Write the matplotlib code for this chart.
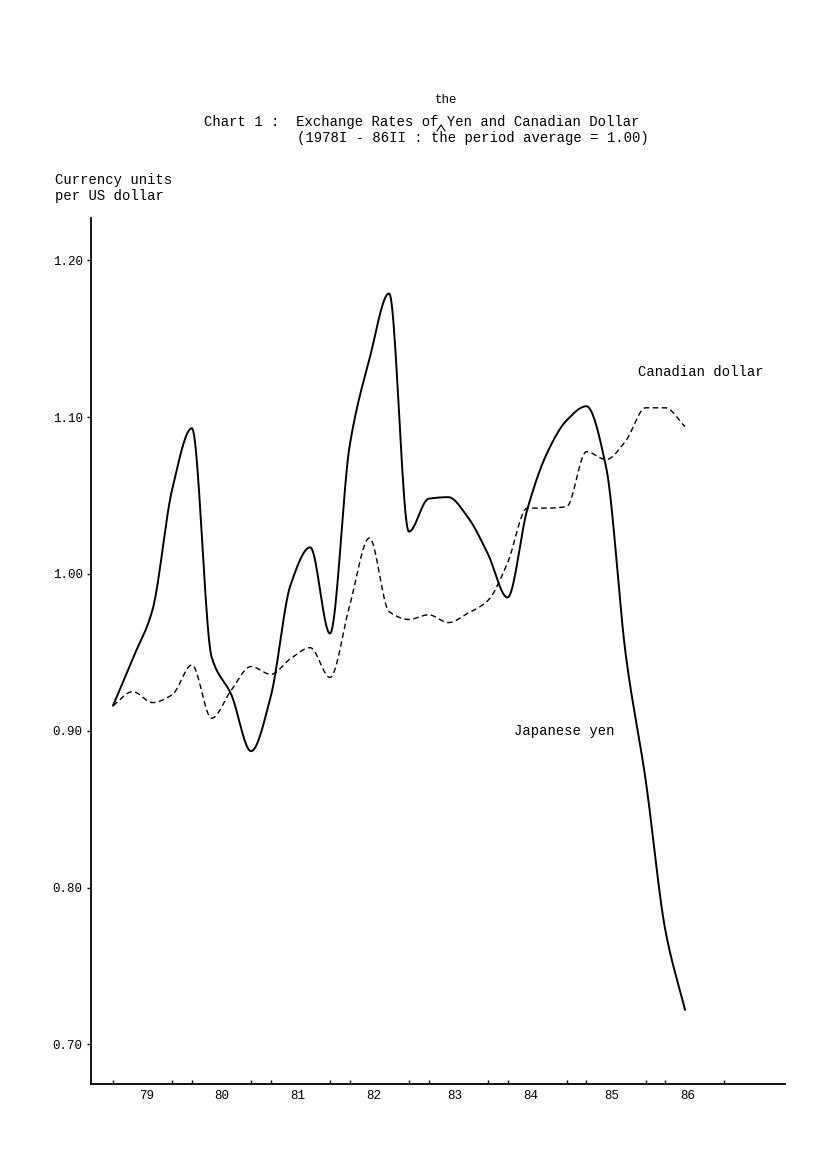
import numpy as np
import matplotlib
matplotlib.use("Agg")
import matplotlib.pyplot as plt
from matplotlib.lines import Line2D

# ---------------- data (quarterly, 1979I - 1986II) ----------------
years = [79, 80, 81, 82, 83, 84, 85, 86]
year_labels = ["79", "80", "81", "82", "83", "84", "85", "86"]
quarters = np.arange(30)  # 79I .. 86II

yen = [0.916, 0.946, 0.977, 1.054, 1.093, 0.947, 0.923, 0.887,
       0.922, 0.993, 1.017, 0.962, 1.082, 1.137, 1.179, 1.027,
       1.048, 1.049, 1.036, 1.013, 0.985, 1.041, 1.077, 1.098,
       1.107, 1.068, 0.948, 0.869, 0.773, 0.722]

cad = [0.916, 0.925, 0.918, 0.923, 0.942, 0.908, 0.926, 0.941,
       0.936, 0.946, 0.953, 0.934, 0.980, 1.023, 0.976, 0.971,
       0.974, 0.969, 0.975, 0.983, 1.007, 1.042, 1.042, 1.043,
       1.078, 1.073, 1.085, 1.106, 1.106, 1.094]

y_ticks = [0.70, 0.80, 0.90, 1.00, 1.10, 1.20]
y_ticklabels = ["0.70", "0.80", "0.90", "1.00", "1.10", "1.20"]


def pchip(x, y, xs):
    x = np.asarray(x, float)
    y = np.asarray(y, float)
    h = np.diff(x)
    d = np.diff(y) / h
    n = len(x)
    m = np.zeros(n)
    for k in range(1, n - 1):
        if d[k - 1] * d[k] > 0:
            w1 = 2 * h[k] + h[k - 1]
            w2 = h[k] + 2 * h[k - 1]
            m[k] = (w1 + w2) / (w1 / d[k - 1] + w2 / d[k])
        else:
            m[k] = 0.0
    m[0] = d[0]
    m[-1] = d[-1]
    out = np.empty_like(xs)
    idx = np.clip(np.searchsorted(x, xs) - 1, 0, n - 2)
    for j, (xv, k) in enumerate(zip(xs, idx)):
        t = (xv - x[k]) / h[k]
        h00 = 2 * t**3 - 3 * t**2 + 1
        h10 = t**3 - 2 * t**2 + t
        h01 = -2 * t**3 + 3 * t**2
        h11 = t**3 - t**2
        out[j] = h00 * y[k] + h10 * h[k] * m[k] + h01 * y[k + 1] + h11 * h[k] * m[k + 1]
    return out


# x in years (1979.0 = 79I)
xq = 1979 + quarters / 4.0
xs = np.linspace(xq[0], xq[-1], 600)

plt.rcParams['font.family'] = ['Liberation Mono', 'DejaVu Sans Mono']

fig = plt.figure(figsize=(8.27, 11.70), dpi=100)
W, H = 827, 1170
ax = fig.add_axes([91 / W, 1 - 1084 / H, (785 - 91) / W, (1084 - 218) / H])

ax.plot(xs, pchip(xq, yen, xs), color='black', lw=1.4, solid_capstyle='round')
ax.plot(xs, pchip(xq, cad, xs), color='black', lw=1.0, linestyle=(0, (4, 2.5)))

ax.set_xlim(1979 + (91 - 113) / 78.9, 1979 + (785 - 113) / 78.9)
ax.set_ylim(1.0 + (574 - 1084) / 1568, 1.0 + (574 - 218) / 1568)

for s in ['top', 'right']:
    ax.spines[s].set_visible(False)
ax.spines['left'].set_linewidth(1.3)
ax.spines['bottom'].set_linewidth(1.3)

xt = []
for yr in years:
    xt += [1900 + yr, 1900 + yr + 0.75]
ax.set_xticks(xt)
ax.set_xticklabels([])
ax.tick_params(axis='x', direction='in', length=3, width=1)
label_off = [0.43, 0.38, 0.34, 0.30, 0.33, 0.30, 0.32, 0.29]
for yr, lab, off in zip(years, year_labels, label_off):
    ax.text(1900 + yr + off, -0.007, lab, transform=ax.get_xaxis_transform(),
            ha='center', va='top', fontsize=9)

ax.set_yticks(y_ticks)
ax.set_yticklabels(y_ticklabels, fontsize=9)
ax.tick_params(axis='y', direction='out', length=3, width=1, pad=3)

# titles and annotations (figure pixel coords)
def ftext(x, y, s, **kw):
    fig.text(x / W, 1 - y / H, s, **kw)

ftext(204, 122, "Chart 1 :  Exchange Rates of Yen and Canadian Dollar",
      fontsize=10, va='center', ha='left')
ftext(297, 138, "(1978I - 86II : the period average = 1.00)",
      fontsize=10, va='center', ha='left')
ftext(446, 100, "the", fontsize=9, va='center', ha='center')
# hand-drawn insertion caret between "of" and "Yen"
fig.add_artist(Line2D([437 / W, 441 / W, 445 / W],
                      [1 - 131 / H, 1 - 125 / H, 1 - 131 / H],
                      transform=fig.transFigure, color='black', lw=0.8))
ftext(55, 180, "Currency units", fontsize=10, va='center', ha='left')
ftext(55, 196, "per US dollar", fontsize=10, va='center', ha='left')
ftext(638, 372, "Canadian dollar", fontsize=10, va='center', ha='left')
ftext(514, 731, "Japanese yen", fontsize=10, va='center', ha='left')

fig.savefig("out.png", dpi=100)
